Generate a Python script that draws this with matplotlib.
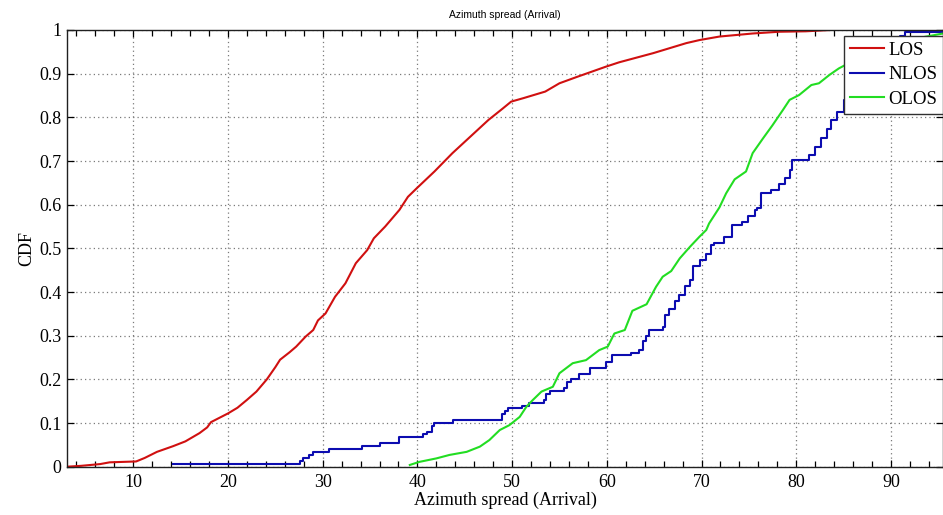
import matplotlib
matplotlib.use("Agg")
import matplotlib.pyplot as plt
from matplotlib.ticker import MultipleLocator

# Empirical CDFs of the arrival azimuth spread, one per propagation condition.
los_x = [3.0, 4.5, 6.5, 7.5, 10.3, 11.2, 12.5, 14.2, 15.5, 17.0, 17.8, 18.2,
         20.0, 21.0, 22.0, 23.0, 24.1, 25.0, 25.5, 26.5, 27.2, 28.2, 29.0,
         29.5, 30.3, 31.3, 32.4, 33.5, 34.7, 35.4, 36.6, 38.1, 39.0, 39.9,
         41.8, 43.7, 45.6, 47.5, 49.0, 49.9, 51.2, 53.5, 55.0, 56.9, 59.9,
         61.3, 64.9, 68.4, 69.8, 71.9, 75.4, 78.2, 81.0, 83.6]
los_y = [0.0, 0.002, 0.006, 0.010, 0.012, 0.020, 0.034, 0.047, 0.058, 0.077,
         0.090, 0.102, 0.122, 0.135, 0.153, 0.172, 0.200, 0.228, 0.245, 0.262,
         0.275, 0.298, 0.313, 0.335, 0.351, 0.389, 0.420, 0.466, 0.496, 0.523,
         0.550, 0.588, 0.618, 0.637, 0.676, 0.718, 0.756, 0.794, 0.820, 0.836,
         0.844, 0.859, 0.878, 0.893, 0.916, 0.926, 0.947, 0.970, 0.977, 0.985,
         0.992, 0.996, 0.997, 1.0]

nlos_x = [14.2, 27.6, 27.9, 28.6, 29.0, 30.7, 34.2, 36.0, 38.1, 40.6, 41.0,
          41.5, 41.8, 43.8, 48.9, 49.2, 49.6, 51.0, 51.8, 53.4, 53.6, 54.0,
          55.5, 55.8, 56.2, 57.1, 58.2, 59.9, 60.5, 62.6, 63.4, 63.8, 64.1,
          64.5, 65.9, 66.1, 66.6, 67.2, 67.6, 68.3, 68.8, 69.1, 69.8, 70.5,
          71.0, 71.3, 72.4, 73.2, 74.3, 74.9, 75.6, 75.9, 76.3, 77.3, 78.2,
          78.8, 79.3, 79.6, 81.4, 82.0, 82.6, 83.3, 83.7, 84.3, 85.0, 86.0,
          87.0, 88.0, 89.0, 90.0, 91.0, 91.5, 97.0]
nlos_y = [0.007, 0.013, 0.020, 0.027, 0.033, 0.040, 0.047, 0.054, 0.067,
          0.074, 0.080, 0.093, 0.100, 0.107, 0.120, 0.127, 0.134, 0.140,
          0.147, 0.153, 0.167, 0.173, 0.180, 0.193, 0.200, 0.213, 0.227,
          0.240, 0.256, 0.260, 0.267, 0.287, 0.300, 0.313, 0.320, 0.347,
          0.360, 0.380, 0.393, 0.413, 0.427, 0.460, 0.473, 0.487, 0.507,
          0.513, 0.527, 0.553, 0.560, 0.573, 0.587, 0.593, 0.627, 0.633,
          0.647, 0.660, 0.680, 0.702, 0.713, 0.733, 0.753, 0.773, 0.793,
          0.813, 0.840, 0.867, 0.893, 0.920, 0.947, 0.967, 0.987, 0.996, 1.0]

olos_x = [39.2, 40.2, 42.0, 43.4, 45.2, 46.6, 47.6, 48.7, 49.7, 50.8, 51.5,
          52.2, 53.1, 54.3, 55.0, 56.4, 57.8, 59.2, 60.1, 60.8, 61.9, 62.7,
          64.2, 65.2, 65.9, 66.8, 67.7, 68.8, 69.8, 70.5, 70.8, 71.9, 72.6,
          73.5, 74.7, 75.4, 76.5, 77.5, 78.6, 79.3, 80.3, 81.6, 82.4, 83.5,
          84.5, 86.5, 89.0, 92.0, 95.5]
olos_y = [0.004, 0.011, 0.019, 0.027, 0.034, 0.046, 0.061, 0.084, 0.095,
          0.114, 0.137, 0.153, 0.172, 0.183, 0.214, 0.237, 0.244, 0.267,
          0.275, 0.305, 0.313, 0.357, 0.372, 0.412, 0.435, 0.448, 0.477,
          0.504, 0.527, 0.542, 0.557, 0.594, 0.626, 0.658, 0.676, 0.718,
          0.752, 0.782, 0.817, 0.840, 0.851, 0.874, 0.878, 0.897, 0.912,
          0.935, 0.958, 0.978, 0.992]

x_ticks = [10, 20, 30, 40, 50, 60, 70, 80, 90]
y_ticks = [0, 0.1, 0.2, 0.3, 0.4, 0.5, 0.6, 0.7, 0.8, 0.9, 1]
y_tick_labels = ["0", "0.1", "0.2", "0.3", "0.4", "0.5", "0.6", "0.7",
                 "0.8", "0.9", "1"]

SERIF = "Liberation Serif"

fig = plt.figure(figsize=(9.43, 5.15), dpi=100)
ax = fig.add_axes([67 / 943, 1 - 466.7 / 515, 876 / 943, 436.7 / 515])

ax.plot(los_x, los_y, color="#d01010", lw=1.5, label="LOS")
ax.plot(nlos_x, nlos_y, color="#0c0cb0", lw=1.5, drawstyle="steps-post",
        label="NLOS")
ax.plot(olos_x, olos_y, color="#22dd22", lw=1.5, label="OLOS")

ax.set_xlim(3, 95.5)
ax.set_ylim(0, 1)
ax.set_xticks(x_ticks)
ax.set_xticklabels([str(t) for t in x_ticks])
ax.set_yticks(y_ticks)
ax.set_yticklabels(y_tick_labels)
ax.xaxis.set_minor_locator(MultipleLocator(2))

ax.tick_params(which="both", direction="in", top=True, right=True,
               labelsize=13, width=0.9, color="black")
ax.tick_params(which="major", length=5, pad=5)
ax.tick_params(which="minor", length=4)
ax.tick_params(axis="y", pad=4)
for lab in ax.get_xticklabels() + ax.get_yticklabels():
    lab.set_fontfamily(SERIF)

ax.grid(True, which="major", color="#7a7a7a", linestyle=(0, (1, 2.5)),
        linewidth=0.9)
for sp in ax.spines.values():
    sp.set_linewidth(1.0)
    sp.set_color("#202020")

ax.set_xlabel("Azimuth spread (Arrival)", fontsize=13, family=SERIF,
              labelpad=1)
ax.set_ylabel("CDF", fontsize=13, family=SERIF, labelpad=3)
ax.set_title("Azimuth spread (Arrival)", fontsize=7.5,
             family="Liberation Sans", pad=9)

leg = ax.legend(loc="upper right", bbox_to_anchor=(1.0, 1 - 6 / 436.7),
                borderaxespad=0, fancybox=False, framealpha=1,
                prop={"family": SERIF, "size": 13.5}, handlelength=1.8,
                handletextpad=0.25, labelspacing=0.4, borderpad=0.3)
leg.get_frame().set_edgecolor("#303030")
leg.get_frame().set_linewidth(1.0)

fig.savefig("out.png", dpi=100)
